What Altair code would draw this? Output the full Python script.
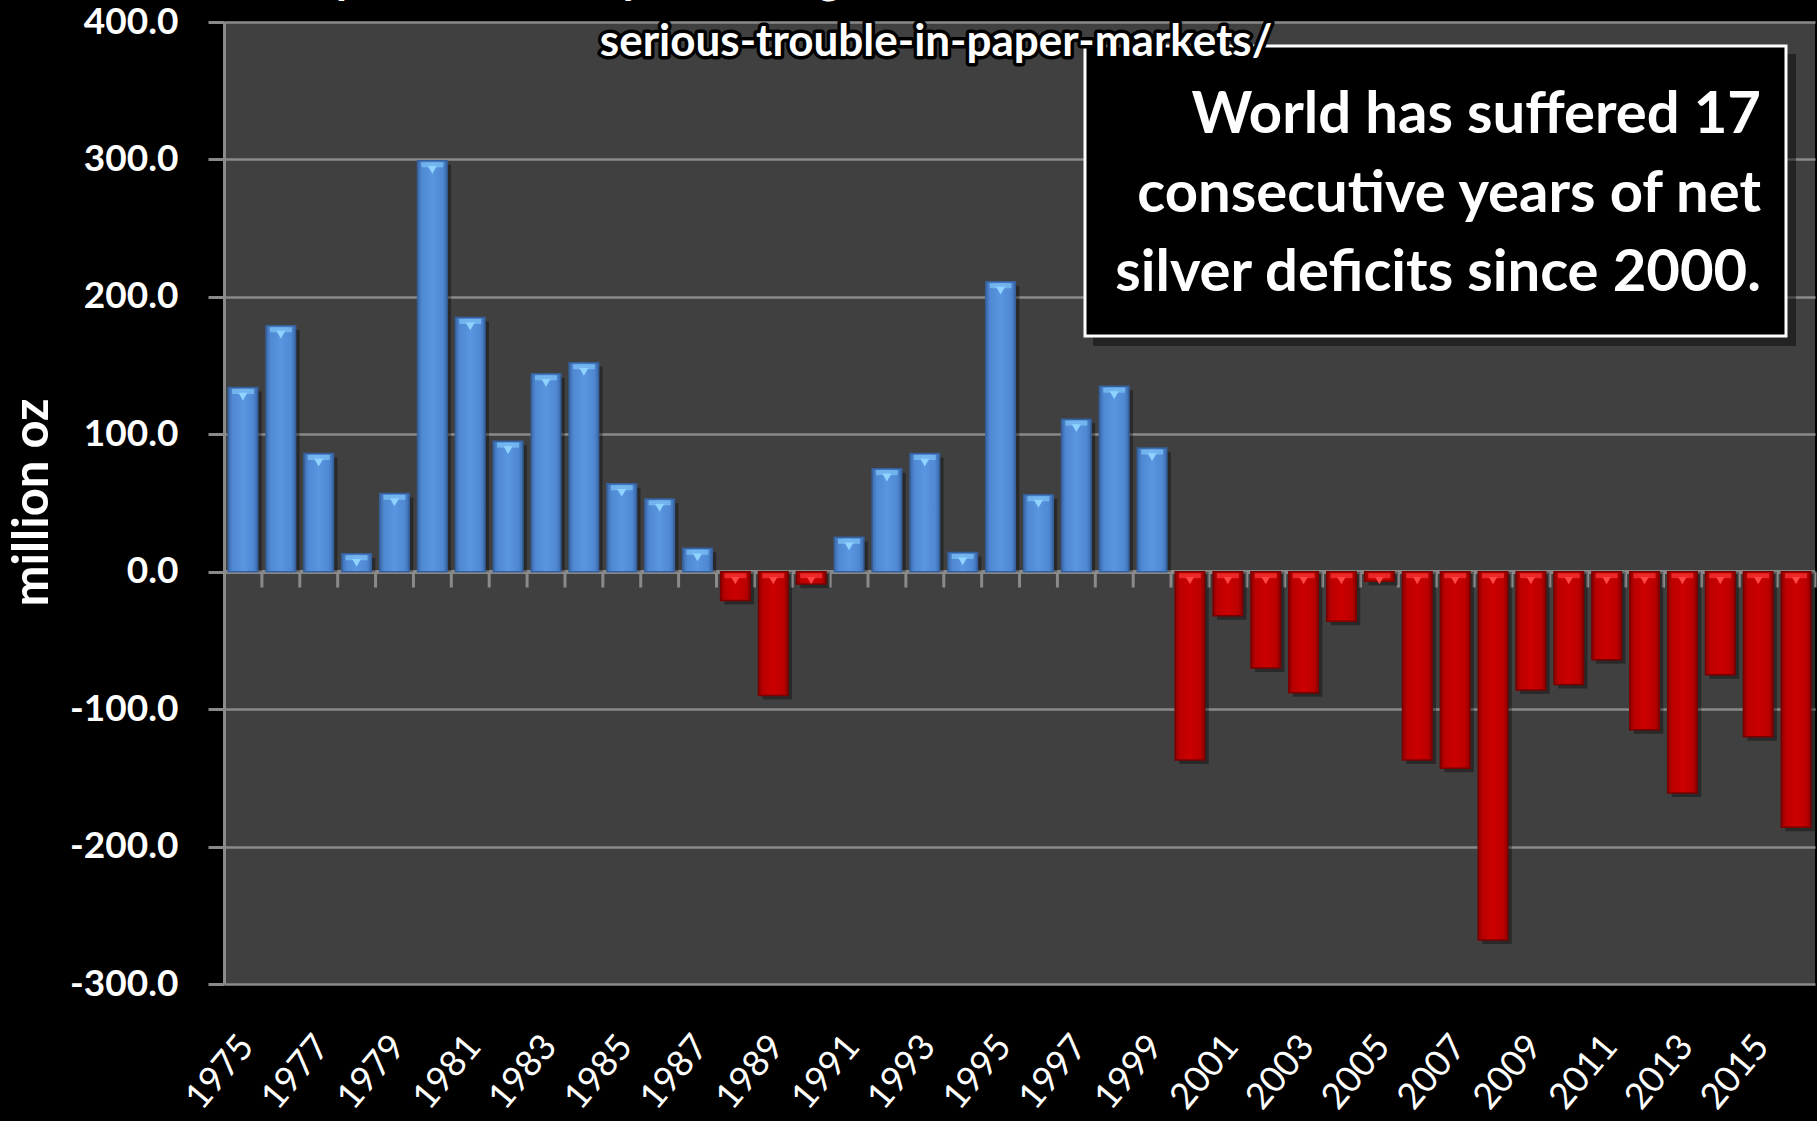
import altair as alt
import pandas as pd

# Net silver market balance, million oz, 1975-2016
years = list(range(1975, 2017))
balance = [134, 179, 86, 13, 57, 299, 185, 95, 144, 152, 64, 53, 17,
           -21, -90, -9,
           25, 75, 86, 14, 211, 56, 111, 135, 90,
           -137, -32, -70, -88, -36, -7, -137, -143, -268, -86, -82,
           -64, -115, -161, -75, -120, -186]
label_years = [y for y in years if y % 2 == 1]
y_ticks = [-300, -200, -100, 0, 100, 200, 300, 400]

title_lines = [
    "https://srsroccoreport.com/global-silver-deficits-continue-silver-in-",
    "serious-trouble-in-paper-markets/",
]
note_lines = [
    "World has suffered 17",
    "consecutive years of net",
    "silver deficits since 2000.",
]

df = pd.DataFrame({"year": years, "balance": balance})

W, H = 1591, 962
FONT = "Lato"
GRID = "#8a8a8a"
TICK_DEPTH = 11.5  # downward length of the category ticks, in value units

x_scale = alt.Scale(paddingInner=0.22, paddingOuter=0.11)
y_scale = alt.Scale(domain=[-300, 400], nice=False, zero=False)

x_axis = alt.Axis(
    values=label_years, labelAngle=-50, labelAlign="right", labelBaseline="middle",
    labelFont=FONT, labelFontSize=36, labelColor="white", labelPadding=56,
    labelOffset=4, domain=False, ticks=False, grid=False, title=None,
    labelOverlap=False,
)
y_axis = alt.Axis(
    values=y_ticks, labelExpr="replace(format(datum.value, '.1f'), '\u2212', '-')",
    labelFont=FONT, labelFontSize=37, labelFontWeight="bold", labelColor="white",
    labelPadding=30, tickSize=16, tickWidth=3, tickColor=GRID,
    domainColor=GRID, domainWidth=3, grid=True, gridColor=GRID, gridWidth=2.5,
    title="million oz", titleFont=FONT, titleFontSize=49, titleFontWeight="bold",
    titleColor="white", titleAngle=-90, titleX=-192, titleY=480,
    titleAlign="center", titleBaseline="middle",
)


def x_enc(**kw):
    return alt.X("year:O", scale=x_scale, axis=x_axis, **kw)


def y_field():
    return alt.Y("balance:Q", scale=y_scale, axis=y_axis)


def y_datum(v):
    return alt.YDatum(v, type="quantitative", scale=y_scale, axis=y_axis)


blue_fill = alt.LinearGradient(
    gradient="linear", x1=0, x2=1, y1=0, y2=0,
    stops=[
        alt.GradientStop(color="#3c6aab", offset=0),
        alt.GradientStop(color="#4f88d3", offset=0.15),
        alt.GradientStop(color="#5a95e0", offset=0.5),
        alt.GradientStop(color="#4f88d3", offset=0.85),
        alt.GradientStop(color="#3c6aab", offset=1),
    ],
)
red_fill = alt.LinearGradient(
    gradient="linear", x1=0, x2=1, y1=0, y2=0,
    stops=[
        alt.GradientStop(color="#8c0000", offset=0),
        alt.GradientStop(color="#bb0000", offset=0.15),
        alt.GradientStop(color="#cc0000", offset=0.5),
        alt.GradientStop(color="#bb0000", offset=0.85),
        alt.GradientStop(color="#8c0000", offset=1),
    ],
)

base = alt.Chart(df)

# x axis crossing at zero, with ticks on the category boundaries
zero_line = base.mark_rule(color=GRID, strokeWidth=3).encode(y=y_datum(0))
boundary_ticks = base.mark_rule(color=GRID, strokeWidth=3, xOffset=4.2).encode(
    x=x_enc(bandPosition=1), y=y_datum(0), y2=alt.Y2Datum(-TICK_DEPTH)
)

shadow = base.mark_bar(color="black", opacity=0.35, xOffset=4, yOffset=4).encode(
    x=x_enc(), y=y_field(), y2=alt.Y2Datum(0)
)

surplus = base.transform_filter("datum.balance > 0").mark_bar(
    color=blue_fill, stroke="#35609c", strokeWidth=1.5
).encode(x=x_enc(), y=y_field(), y2=alt.Y2Datum(0))

deficit = base.transform_filter("datum.balance < 0").mark_bar(
    color=red_fill, stroke="#7a0000", strokeWidth=1.5
).encode(x=x_enc(), y=y_field(), y2=alt.Y2Datum(0))

# bevel highlights on the top edge of each bar
surplus_cap = base.transform_filter("datum.balance > 0").mark_tick(
    color="#7fc4f6", thickness=5, size=22, yOffset=4
).encode(x=x_enc(), y=y_field())
surplus_tip = base.transform_filter("datum.balance > 0").mark_point(
    shape="triangle-down", filled=True, color="#8fd4ff", size=80, opacity=1, yOffset=9
).encode(x=x_enc(), y=y_field())
deficit_cap = base.transform_filter("datum.balance < 0").mark_tick(
    color="#ff3838", thickness=5, size=22, yOffset=4
).encode(x=x_enc(), y=y_datum(0))
deficit_tip = base.transform_filter("datum.balance < 0").mark_point(
    shape="triangle-down", filled=True, color="#ff4545", size=70, opacity=1, yOffset=9
).encode(x=x_enc(), y=y_datum(0))

# source line at the top, white with a black outline
note_df = pd.DataFrame({"k": [0]})
title_halo = alt.Chart(note_df).mark_text(
    text=title_lines, font=FONT, fontSize=44, fontWeight="bold", align="center",
    baseline="alphabetic", lineHeight=62, color="black", stroke="black", strokeWidth=7,
    strokeJoin="round",
).encode(x=alt.value(712), y=alt.value(-28))
title_text = alt.Chart(note_df).mark_text(
    text=title_lines, font=FONT, fontSize=44, fontWeight="bold", align="center",
    baseline="alphabetic", lineHeight=62, color="white",
).encode(x=alt.value(712), y=alt.value(-28))

# callout box
box_shadow = alt.Chart(note_df).mark_rect(color="black", opacity=0.45).encode(
    x=alt.value(869), x2=alt.value(1572), y=alt.value(32), y2=alt.value(324)
)
box = alt.Chart(note_df).mark_rect(color="black", stroke="white", strokeWidth=3).encode(
    x=alt.value(861), x2=alt.value(1562), y=alt.value(24), y2=alt.value(314)
)
box_text = alt.Chart(note_df).mark_text(
    text=note_lines, font=FONT, fontSize=58, fontWeight="bold", align="right",
    baseline="alphabetic", lineHeight=79, color="white",
).encode(x=alt.value(1537), y=alt.value(111))

chart = alt.layer(
    zero_line, boundary_ticks, shadow, surplus, deficit,
    surplus_cap, surplus_tip, deficit_cap, deficit_tip,
    box_shadow, box, box_text, title_halo, title_text,
).properties(
    width=W, height=H,
    background="black",
    padding={"left": 224, "top": 22, "right": 2, "bottom": 137},
    autosize=alt.AutoSizeParams(type="none"),
).configure_view(fill="#404040", stroke=None)

chart.save("out.html", embed_options={"renderer": "svg", "actions": False})
